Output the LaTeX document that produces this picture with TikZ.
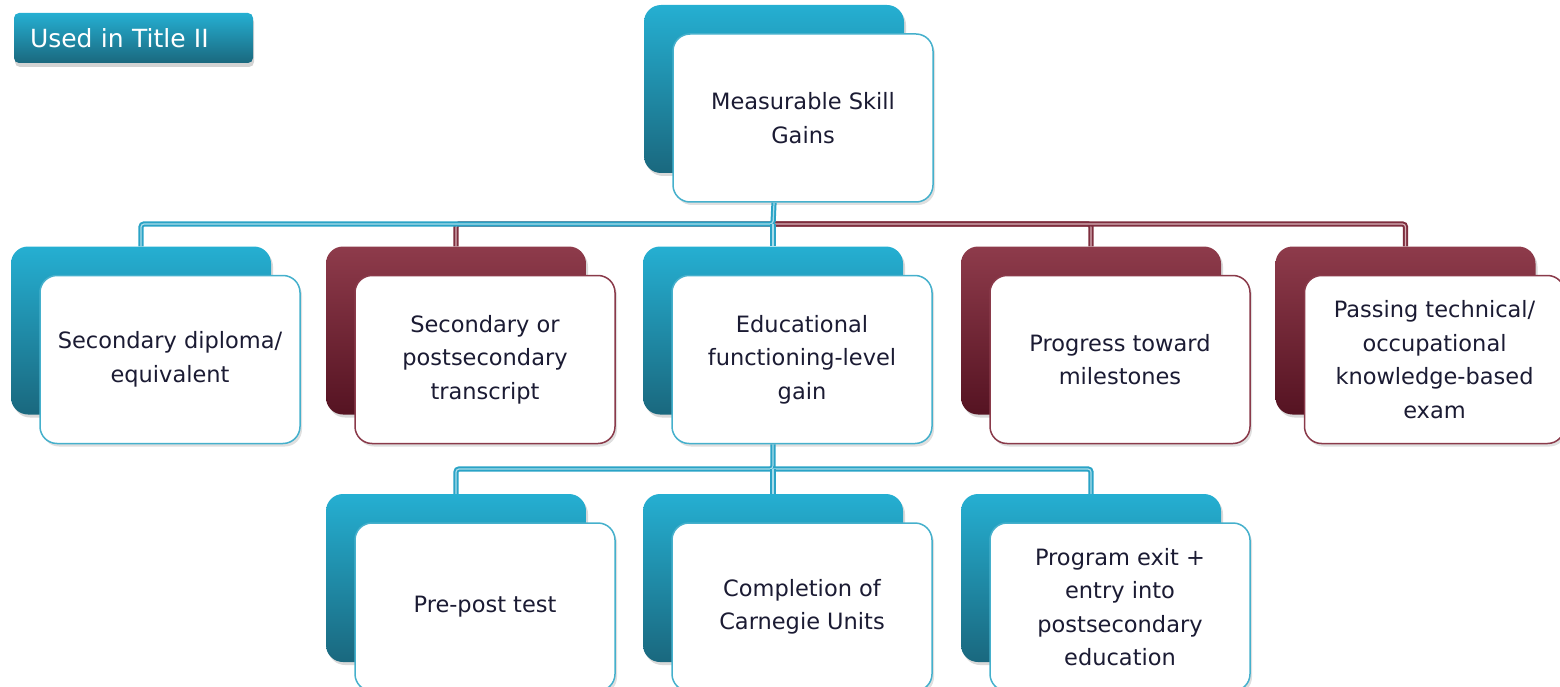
\documentclass[tikz,border=0pt]{standalone}
\usepackage{fontspec}
\setmainfont{DejaVu Sans}
\usetikzlibrary{shadows}
\definecolor{tealT}{HTML}{25AFD2}
\definecolor{tealM}{HTML}{1F9CBD}
\definecolor{tealB}{HTML}{1A687E}
\definecolor{marT}{HTML}{8E3B4B}
\definecolor{marM}{HTML}{7A2C3E}
\definecolor{marB}{HTML}{551322}
\definecolor{tealLine}{HTML}{2AA3C6}
\definecolor{tealLight}{HTML}{A9DCEA}
\definecolor{marLine}{HTML}{7E2E3E}
\definecolor{marLight}{HTML}{D8B3BA}
\definecolor{tealEdge}{HTML}{45B0CC}
\definecolor{marEdge}{HTML}{8A3A4A}
\definecolor{txt}{HTML}{1B1B33}
\tikzset{
  boxsize/.style={rounded corners=17pt, minimum width=260pt, minimum height=168pt, inner sep=0pt},
  backT/.style={boxsize, top color=tealT, middle color=tealM, bottom color=tealB,
    drop shadow={opacity=0.3, shadow xshift=2pt, shadow yshift=-3pt}},
  backM/.style={boxsize, top color=marT, middle color=marM, bottom color=marB,
    drop shadow={opacity=0.3, shadow xshift=2pt, shadow yshift=-3pt}},
  frontbase/.style={boxsize, fill=white, line width=1.5pt, align=center, text=txt,
    font=\fontsize{22.5}{33.5}\selectfont,
    drop shadow={opacity=0.25, shadow xshift=2pt, shadow yshift=-3pt}},
  frontT/.style={frontbase, draw=tealEdge},
  frontM/.style={frontbase, draw=marEdge},
  conT/.style={draw=tealLine, line width=2pt, double=tealLight, double distance=1.2pt, rounded corners=3pt},
  conM/.style={draw=marLine, line width=2pt, double=marLight, double distance=1.2pt, rounded corners=3pt},
  titlebox/.style={rounded corners=5pt, top color=tealT, middle color=tealM, bottom color=tealB,
    minimum height=50pt, text width=207pt, align=left, inner xsep=16pt, inner ysep=0pt,
    text=white, font=\fontsize{25}{28}\selectfont,
    drop shadow={opacity=0.35, shadow xshift=1pt, shadow yshift=-4pt}}
}
\newcommand{\tbox}[5]{%
  \node[back#4] (#1b) at (#2,#3) {};
  \node[front#4] (#1) at (#2+29,#3+29) {#5};
}
\begin{document}
\begin{tikzpicture}[x=1pt,y=-1pt]
\useasboundingbox (0,0) rectangle (1560,687);
\node[titlebox] (title) at (133.5,38) {Used in Title II};
\tbox{top}{774}{89}{T}{Measurable Skill\\Gains}
\tbox{ba}{141}{330.5}{T}{Secondary diploma/\\equivalent}
\tbox{bb}{456}{330.5}{M}{Secondary or\\postsecondary\\transcript}
\tbox{bc}{773}{330.5}{T}{Educational\\functioning-level\\gain}
\tbox{bd}{1091}{330.5}{M}{Progress toward\\milestones}
\tbox{be}{1405.5}{330.5}{M}{Passing technical/\\occupational\\knowledge-based\\exam}
\tbox{ca}{456}{578}{T}{Pre-post test}
\tbox{cb}{773}{578}{T}{Completion of\\Carnegie Units}
\tbox{cc}{1091}{578}{T}{Program exit +\\entry into\\postsecondary\\education}
% junctions
\coordinate (j1) at (773,224);
\coordinate (j2) at (773,469);
% level 1 connectors
\draw[conM] (j1) -| (bbb.north);
\draw[conM] (j1) -| (bdb.north);
\draw[conM] (j1) -| (beb.north);
\draw[conT] (topb.center |- top.south) -- (j1) -| (bab.north);
\draw[conT] (j1) -- (bcb.north);
% level 2 connectors
\draw[conT] (bcb.center |- bc.south) -- (j2) -| (cab.north);
\draw[conT] (j2) -| (ccb.north);
\draw[conT] (j2) -- (cbb.north);
\end{tikzpicture}
\end{document}
